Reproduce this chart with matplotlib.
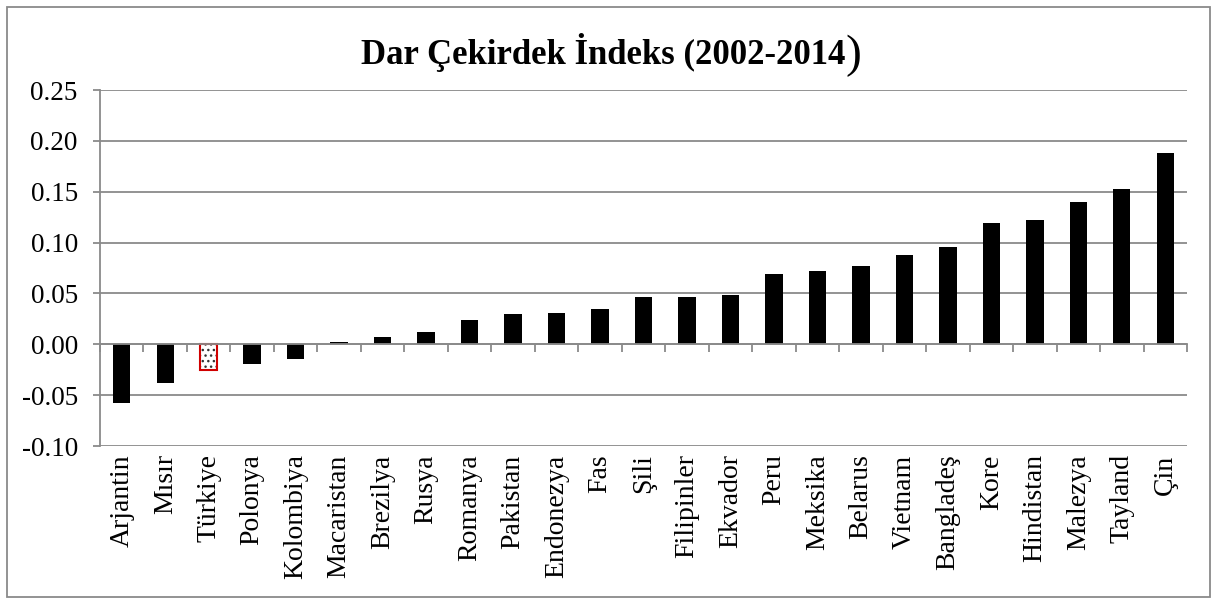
import matplotlib
matplotlib.use("Agg")
import matplotlib.pyplot as plt
from matplotlib.patches import Rectangle
import numpy as np

countries = ["Arjantin", "Mısır", "Türkiye", "Polonya", "Kolombiya", "Macaristan",
             "Brezilya", "Rusya", "Romanya", "Pakistan", "Endonezya", "Fas", "Şili",
             "Filipinler", "Ekvador", "Peru", "Meksika", "Belarus", "Vietnam",
             "Bangladeş", "Kore", "Hindistan", "Malezya", "Tayland", "Çin"]
values = [-0.058, -0.038, -0.025, -0.019, -0.014, 0.002,
          0.007, 0.012, 0.024, 0.030, 0.031, 0.035, 0.046,
          0.046, 0.048, 0.069, 0.072, 0.077, 0.088,
          0.096, 0.119, 0.122, 0.140, 0.153, 0.188]
highlight = "Türkiye"
yticks = [-0.10, -0.05, 0.00, 0.05, 0.10, 0.15, 0.20, 0.25]

plt.rcParams['font.family'] = ['Liberation Serif', 'DejaVu Serif']
GRID = '#8a8a8a'

W, H = 1217, 603
fig = plt.figure(figsize=(W / 100, H / 100), dpi=100)
fig.patches.append(Rectangle((7 / W, 6 / H), 1203 / W, 590 / H, transform=fig.transFigure,
                             fill=False, edgecolor=GRID, linewidth=1.3))

ax = fig.add_axes([100 / W, (H - 446) / H, 1087 / W, 356 / H])
x = np.arange(len(countries))
colors = ['white' if c == highlight else 'black' for c in countries]
bars = ax.bar(x, values, width=0.4, color=colors, zorder=3)
for c, b in zip(countries, bars):
    if c == highlight:
        b.set_hatch('...')
        b.set_edgecolor('#333333')
        b.set_linewidth(0)
        ax.bar([b.get_x() + b.get_width() / 2], [b.get_height()], width=b.get_width(),
               facecolor='none', edgecolor='#d00000', linewidth=1.5, zorder=4)

ax.set_xlim(-0.5, len(countries) - 0.5)
ax.set_ylim(-0.10, 0.25)
ax.set_yticks(yticks)
ax.set_yticklabels([f"{v:.2f}" for v in yticks], fontsize=19.5)
ax.grid(axis='y', color=GRID, linewidth=1.3, zorder=0)
ax.tick_params(axis='y', direction='out', length=5, color=GRID, width=1.3, pad=11)

for s in ['top', 'right']:
    ax.spines[s].set_visible(False)
ax.spines['left'].set_color(GRID)
ax.spines['left'].set_linewidth(1.3)
ax.spines['bottom'].set_position(('data', 0))
ax.spines['bottom'].set_color(GRID)
ax.spines['bottom'].set_linewidth(1.3)
ax.spines['bottom'].set_zorder(5)
ax.set_xticks(np.arange(len(countries) + 1) - 0.5)
ax.set_xticklabels([])
ax.tick_params(axis='x', direction='out', length=6, color=GRID, width=1.3)

sec = ax.secondary_xaxis(0)
sec.set_xticks(x)
sec.set_xticklabels(countries, rotation=90, fontsize=20)
sec.tick_params(axis='x', length=0, pad=6)
sec.spines['bottom'].set_visible(False)

fig.canvas.draw()
renderer = fig.canvas.get_renderer()
t1 = fig.text(0.5, (H - 64) / H, "Dar Çekirdek İndeks (2002-2014", fontsize=25,
              fontweight='bold', ha='center', va='baseline')
shift = 5
t1.set_x((0.5 * W - shift) / W)
bb = t1.get_window_extent(renderer)
fig.text(bb.x1 / W, (H - 67) / H, ")", fontsize=34, fontweight='normal',
         ha='left', va='baseline')

fig.savefig("out.png", dpi=100)
